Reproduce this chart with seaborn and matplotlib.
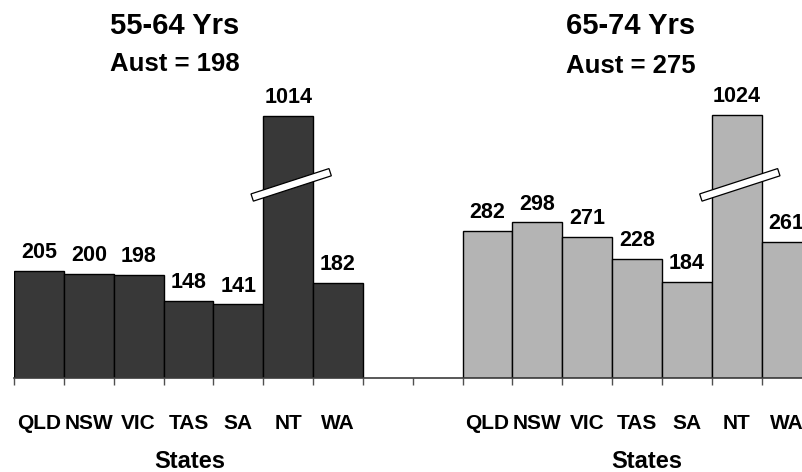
import numpy as np
import pandas as pd
import matplotlib
matplotlib.use("Agg")
import matplotlib.pyplot as plt
import matplotlib.patches as mpatches
import seaborn as sns

# Mortality rates by state for two age bands
states = ["QLD", "NSW", "VIC", "TAS", "SA", "NT", "WA"]
rate_55_64 = [205, 200, 198, 148, 141, 1014, 182]
rate_65_74 = [282, 298, 271, 228, 184, 1024, 261]
age_groups = ["55-64 Yrs", "65-74 Yrs"]
aust_rates = [198, 275]
broken_state = "NT"

sns.set_theme(style="white")
plt.rcParams["font.family"] = ["Liberation Sans", "DejaVu Sans"]
plt.rcParams["font.weight"] = "bold"
plt.rcParams["text.color"] = "black"
plt.rcParams["xtick.color"] = "black"
plt.rcParams["xtick.labelcolor"] = "black"

# Two empty slots separate the age groups on one shared category axis
slots_a = [f"{s} {age_groups[0]}" for s in states]
slots_b = [f"{s} {age_groups[1]}" for s in states]
order = slots_a + ["gap 1", "gap 2"] + slots_b

df = pd.DataFrame({
    "slot": slots_a + slots_b,
    "state": states + states,
    "group": [age_groups[0]] * len(states) + [age_groups[1]] * len(states),
    "rate": rate_55_64 + rate_65_74,
})

W, H, DPI = 803, 472, 100
fig = plt.figure(figsize=(W / DPI, H / DPI), dpi=DPI)
x0_px, base_px = 14, 378
ax = fig.add_axes([x0_px / W, (H - base_px) / H, (W - x0_px) / W, base_px / H])

palette = {age_groups[0]: "#383838", age_groups[1]: "#b4b4b4"}
sns.barplot(data=df, x="slot", y="rate", hue="group", order=order,
            palette=palette, dodge=False, width=1.0, saturation=1,
            edgecolor="black", linewidth=1.0, legend=False, ax=ax)

# Broken value axis: values above the break are compressed
BREAK, K = 370.0, 0.205

def fwd(v):
    v = np.asarray(v, dtype=float)
    return np.where(v <= BREAK, v, BREAK + (v - BREAK) * K)

def inv(y):
    y = np.asarray(y, dtype=float)
    return np.where(y <= BREAK, y, BREAK + (y - BREAK) / K)

px_per_unit = 0.522
ax.set_yscale("function", functions=(fwd, inv))

# Axis styling: only a bottom line with ticks between categories
for side in ["top", "left", "right"]:
    ax.spines[side].set_visible(False)
ax.spines["bottom"].set_color("#3c3c3c")
ax.spines["bottom"].set_linewidth(1.2)
ax.set_yticks([])
ax.set_xlabel("")
ax.set_ylabel("")
ax.set_xticks(np.arange(len(order) + 1) - 0.5)
ax.set_xticklabels([])
ax.tick_params(axis="x", which="major", bottom=True, direction="out",
               length=5, width=1, color="#505050")
ax.set_xticks(np.arange(len(order)), minor=True)
tick_labels = [lbl.split(" ")[0] if not lbl.startswith("gap") else ""
               for lbl in order]
ax.set_xticklabels(tick_labels, minor=True, fontsize=15, fontweight="bold",
                   color="black")
ax.tick_params(axis="x", which="minor", bottom=True, length=0, pad=26)

# Limits last, so the tick setup cannot widen them
slot_px = 49.85
ax.set_xlim(-0.5, -0.5 + (W - x0_px) / slot_px)
ax.set_ylim(0, float(inv(base_px / px_per_unit)))

# Value labels above each bar
for _, row in df.iterrows():
    pos = order.index(row["slot"])
    ax.annotate(f"{row['rate']}", (pos, row["rate"]), xytext=(0, 5.5),
                textcoords="offset points", ha="center", va="bottom",
                fontsize=15.5, fontweight="bold", color="black",
                annotation_clip=False)

# Break symbols across the compressed bars
fig_inv = fig.transFigure.inverted()
ang = np.deg2rad(18.0)
u = np.array([np.cos(ang), np.sin(ang)])
n = np.array([-np.sin(ang), np.cos(ang)])
half_len, half_thk = 41.0, 3.8
for grp in age_groups:
    pos = order.index(f"{broken_state} {grp}")
    cx, cy = ax.transData.transform((pos, BREAK))
    c = np.array([cx + 3, cy])
    corners = [c - u * half_len - n * half_thk, c + u * half_len - n * half_thk,
               c + u * half_len + n * half_thk, c - u * half_len + n * half_thk]
    verts = fig_inv.transform(np.array(corners))
    fig.add_artist(mpatches.Polygon(verts, closed=True, transform=fig.transFigure,
                                    facecolor="white", edgecolor="black",
                                    linewidth=0.9, zorder=10))

# Group titles and axis titles
titles_x = [175, 631]
sub_y = [71, 73]
states_x = [190, 647]
for i, grp in enumerate(age_groups):
    fig.text(titles_x[i] / W, 1 - 34.5 / H, grp, ha="center", va="baseline",
             fontsize=21, fontweight="bold", color="black")
    fig.text(titles_x[i] / W, 1 - sub_y[i] / H, f"Aust = {aust_rates[i]}",
             ha="center", va="baseline", fontsize=18.5, fontweight="bold",
             color="black")
    fig.text(states_x[i] / W, 1 - 468.5 / H, "States", ha="center",
             va="baseline", fontsize=17, fontweight="bold", color="black")

fig.savefig("out.png", dpi=DPI, facecolor="white")
